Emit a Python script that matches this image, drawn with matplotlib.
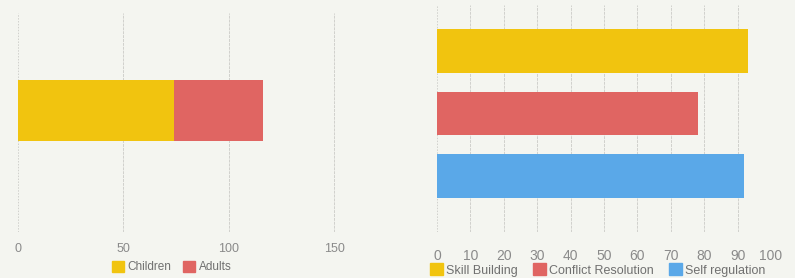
import matplotlib
matplotlib.use('Agg')
import matplotlib.pyplot as plt
import matplotlib.patches as mpatches

# Left chart: one stacked bar
group_series = ['Children', 'Adults']
group_values = [74, 42]
left_ticks = [0, 50, 100, 150]

# Right chart: one bar per skill
skill_names = ['Skill Building', 'Conflict Resolution', 'Self regulation']
skill_values = [93, 78, 92]
right_ticks = [0, 10, 20, 30, 40, 50, 60, 70, 80, 90, 100]

plt.rcParams['font.family'] = ['Liberation Sans', 'DejaVu Sans']

bg = '#f4f5f0'
yellow = '#f1c40f'
red = '#e06562'
blue = '#5aa8e8'
grid_col = '#d0d0cc'
tick_col = '#8a8a8a'

W, H = 795, 278
fig = plt.figure(figsize=(W / 100, H / 100), dpi=100)
fig.patch.set_facecolor(bg)


def px_axes(x0, x1, y0, y1):
    """Axes from pixel box (left, right, top, bottom)."""
    return fig.add_axes([x0 / W, 1 - y1 / H, (x1 - x0) / W, (y1 - y0) / H])


def style(ax, ticks, fs, pad):
    ax.set_facecolor(bg)
    for s in ax.spines.values():
        s.set_visible(False)
    ax.set_yticks([])
    ax.set_xticks(ticks)
    ax.tick_params(axis='x', length=0, pad=pad, labelsize=fs, labelcolor=tick_col)
    for t in ticks:
        ls = (0, (1.5, 1.5)) if t == 0 else (0, (3, 1))
        ax.axvline(t, color=grid_col, lw=0.7, ls=ls, zorder=0)


# left panel
ax1 = px_axes(18, 387, 13, 232)
style(ax1, left_ticks, 9, 8)
colors1 = [yellow, red]
left = 0
for name, v, c in zip(group_series, group_values, colors1):
    ax1.barh(0, v, left=left, height=0.6, color=c, zorder=2)
    left += v
ax1.set_xlim(0, 175)
ax1.set_ylim(-1.19, 0.96)

h1 = [mpatches.Patch(color=c, label=n) for n, c in zip(group_series, colors1)]
fig.legend(handles=h1, loc='center', bbox_to_anchor=(172 / W, 1 - 267 / H),
           ncol=2, frameon=False, fontsize=8.5, handlelength=1.0,
           handleheight=1.1, handletextpad=0.3, columnspacing=1.0,
           labelcolor='#707070')

# right panel
ax2 = px_axes(437, 771, 5, 232)
style(ax2, right_ticks, 10, 12)
colors2 = [yellow, red, blue]
for i, (v, c) in enumerate(zip(skill_values, colors2)):
    ax2.barh(i, v, height=0.7, color=c, zorder=2)
ax2.set_xlim(0, 100)
ax2.set_ylim(2.9, -0.74)

h2 = [mpatches.Patch(color=c, label=n) for n, c in zip(skill_names, colors2)]
fig.legend(handles=h2, loc='center', bbox_to_anchor=(598 / W, 1 - 270 / H),
           ncol=3, frameon=False, fontsize=9, handlelength=1.0,
           handleheight=1.1, handletextpad=0.3, columnspacing=1.2,
           labelcolor='#707070')

fig.savefig('out.png', dpi=100, facecolor=bg)
